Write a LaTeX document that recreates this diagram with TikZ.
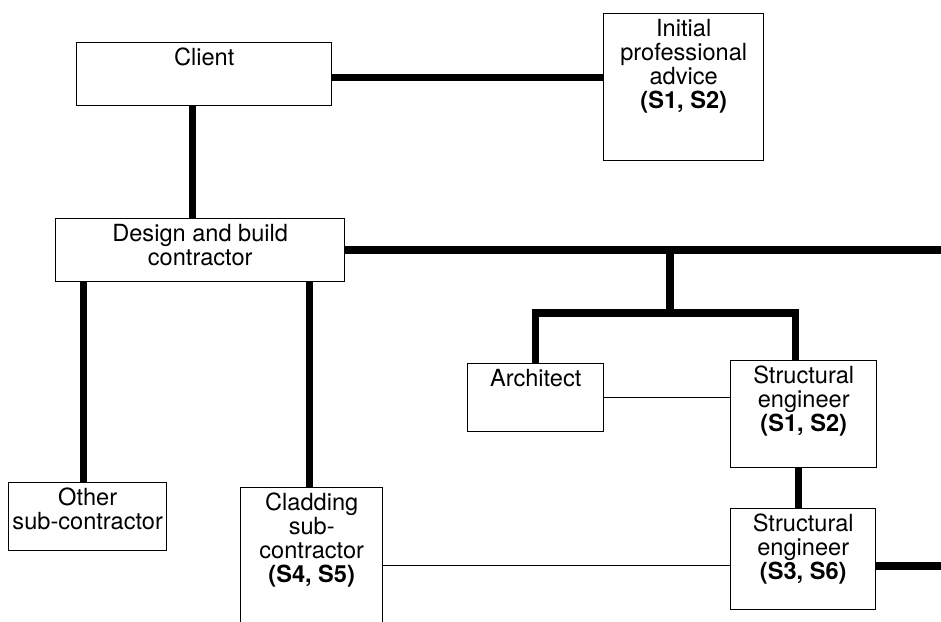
\documentclass[tikz,border=0pt]{standalone}
\usepackage{fontspec}
\setmainfont{TeX Gyre Heros}

\begin{document}
\begin{tikzpicture}[x=1pt, y=-1pt,
    box/.style={draw, line width=1.4pt, anchor=north west, align=center, inner sep=0pt,
        font=\fontsize{23.6}{24}\selectfont},
    heavy/.style={line width=7.5pt},
    light/.style={line width=1.2pt}]
    \clip (0,0) rectangle (941,621);

%boxes
    \node[box, minimum width=255pt, text height=23pt, text depth=40pt] (client) at (76,42) {Client};
    \node[box, minimum width=160pt, text height=95pt, text depth=52pt] (advice) at (603,13) {Initial\\professional\\advice\\\textbf{(S1, S2)}};
    \node[box, minimum width=289pt, text height=47pt, text depth=16pt] (db) at (55,218) {Design and build\\contractor};
    \node[box, minimum width=136pt, text height=23pt, text depth=45pt] (arch) at (467,363) {Architect};
    \node[box, minimum width=146pt, text height=71pt, text depth=36pt] (se1) at (730,360) {Structural\\engineer\\\textbf{(S1, S2)}};
    \node[box, minimum width=145pt, text height=71pt, text depth=30pt] (se2) at (730,508) {Structural\\engineer\\\textbf{(S3, S6)}};
    \node[box, minimum width=158pt, text height=47pt, text depth=21pt] (other) at (8,482) {Other\\sub-contractor};
    \node[box, minimum width=142pt, text height=95pt, text depth=55pt] (clad) at (240,487) {Cladding\\sub-\\contractor\\\textbf{(S4, S5)}};

%client links
    \draw[heavy] ([yshift=-3.5pt]client.east) -- ([yshift=-3.5pt]client.east -| advice.west);
    \draw[heavy] ([xshift=-11.5pt]client.south) -- ([xshift=-11.5pt]client.south |- db.north);

%contractor links
    \coordinate (dbend) at (941,249);
    \draw[heavy] (db.east) -- (db.east -| dbend);
    \coordinate (split) at (670,313);
    \draw[heavy] (split |- db.east) -- (split);
    \draw[heavy] (arch.north) |- (split) -| ([xshift=-8pt]se1.north);
    \draw[heavy] ([xshift=-4pt]other.north) -- ([xshift=-4pt]other.north |- db.south);
    \draw[heavy] ([xshift=-2pt]clad.north) -- ([xshift=-2pt]clad.north |- db.south);

%consultants
    \draw[light] (arch.east) -- (arch.east -| se1.west);
    \draw[heavy] ([xshift=-5pt]se1.south) -- ([xshift=-5pt]se1.south |- se2.north);
    \draw[light] ([yshift=-6.5pt]se2.west) -- ([yshift=-6.5pt]se2.west -| clad.east);
    \coordinate (seend) at (941,566);
    \draw[heavy] (se2.east |- seend) -- (seend);

\end{tikzpicture}
\end{document}
